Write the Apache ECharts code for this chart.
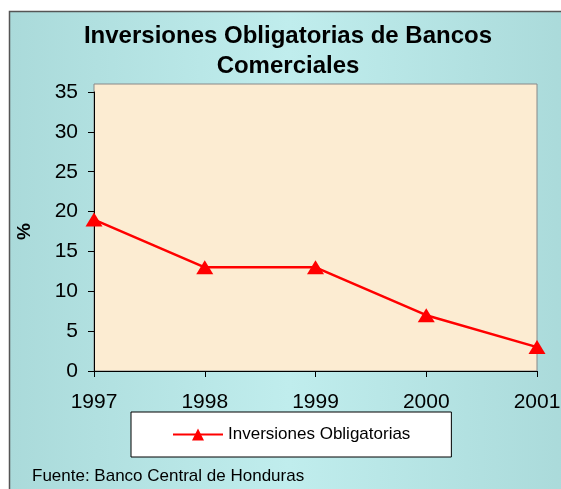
<!DOCTYPE html>
<html>
<head>
<meta charset="utf-8">
<script src="https://cdn.jsdelivr.net/npm/echarts@6/dist/echarts.min.js"></script>
<style>
  html, body { margin: 0; padding: 0; background: #fff; }
  #chart { width: 561px; height: 489px; }
</style>
</head>
<body>
<div id="chart"></div>
<script>
// datos del grafico
const años = ['1997', '1998', '1999', '2000', '2001'];
const inversiones = [19, 13, 13, 7, 3];
const nombreSerie = 'Inversiones Obligatorias';

const chart = echarts.init(document.getElementById('chart'));

const option = {
    backgroundColor: '#ffffff',
    animation: false,
    textStyle: { fontFamily: 'Liberation Sans, Arial, sans-serif' },
    graphic: [
        {
            // marco exterior celeste
            type: 'rect',
            z: -10,
            shape: { x: 9.5, y: 11.5, width: 560, height: 490 },
            style: {
                fill: {
                    type: 'linear', x: 0, y: 0, x2: 1, y2: 0,
                    colorStops: [
                        { offset: 0, color: '#aadada' },
                        { offset: 0.5, color: '#c0eded' },
                        { offset: 1, color: '#aadada' }
                    ]
                },
                stroke: '#555555',
                lineWidth: 1.5
            }
        },
        {
            type: 'text',
            left: 32,
            top: 468,
            style: {
                text: 'Fuente: Banco Central de Honduras',
                font: '17px Liberation Sans, Arial, sans-serif',
                fill: '#000'
            }
        }
    ],
    title: {
        text: 'Inversiones Obligatorias de Bancos\nComerciales',
        left: 283,
        textAlign: 'center',
        top: 16,
        textStyle: {
            fontSize: 24,
            fontWeight: 'bold',
            color: '#000',
            lineHeight: 30,
            fontFamily: 'Liberation Sans, Arial, sans-serif'
        }
    },
    legend: {
        left: 131,
        top: 412,
        backgroundColor: '#ffffff',
        borderColor: '#000000',
        borderWidth: 1,
        padding: [14, 41, 14, 41],
        itemWidth: 50,
        itemHeight: 15,
        itemGap: 8,
        textStyle: { fontSize: 17, color: '#000' },
        data: [nombreSerie]
    },
    grid: [
        {
            // fondo del area de trazado (llega hasta 36)
            left: 94,
            right: 24,
            top: 84,
            bottom: 118,
            outerBoundsMode: 'none',
            show: true,
            backgroundColor: '#fcecd2',
            borderColor: '#888888',
            borderWidth: 1
        },
        {
            left: 94,
            right: 24,
            top: 92,
            bottom: 118,
            outerBoundsMode: 'none'
        }
    ],
    xAxis: [
        { gridIndex: 0, type: 'category', data: años, show: false },
        {
            gridIndex: 1,
            type: 'category',
            data: años,
            boundaryGap: false,
            axisLine: { lineStyle: { color: '#000', width: 1 } },
            axisTick: { show: true, alignWithLabel: true, length: 6, lineStyle: { color: '#000' } },
            axisLabel: { fontSize: 21, color: '#000', margin: 21, hideOverlap: false }
        }
    ],
    yAxis: [
        { gridIndex: 0, type: 'value', show: false, splitLine: { show: false } },
        {
            gridIndex: 1,
            type: 'value',
            min: 0,
            max: 35,
            interval: 5,
            name: '%',
            nameLocation: 'middle',
            nameGap: 60,
            nameRotate: 90,
            nameTextStyle: { fontSize: 19, fontWeight: 'bold', color: '#000' },
            axisLine: { show: true, lineStyle: { color: '#000', width: 1 } },
            axisTick: { show: true, length: 6, lineStyle: { color: '#000' } },
            axisLabel: { fontSize: 21, color: '#000', margin: 16 },
            splitLine: { show: false }
        }
    ],
    series: [
        {
            name: nombreSerie,
            type: 'line',
            xAxisIndex: 1,
            yAxisIndex: 1,
            data: inversiones,
            symbol: 'triangle',
            symbolSize: [17, 14],
            itemStyle: { color: '#ff0000' },
            lineStyle: { color: '#ff0000', width: 2.5 }
        }
    ]
};

chart.setOption(option);
</script>
</body>
</html>
